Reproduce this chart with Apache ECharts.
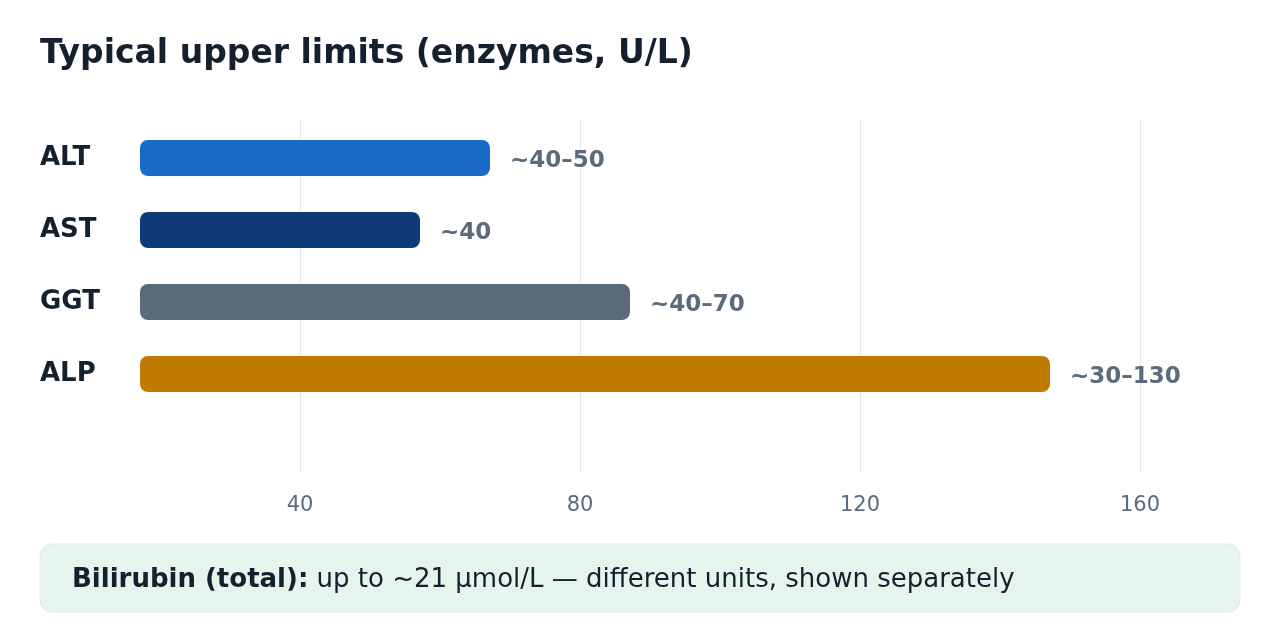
<!DOCTYPE html>
<html>
<head>
<meta charset="utf-8">
<title>Typical upper limits (enzymes, U/L)</title>
<script src="https://cdn.jsdelivr.net/npm/echarts@6.0.0/dist/echarts.min.js"></script>
<style>
  html, body { margin: 0; padding: 0; background: #fff; }
  #chart { width: 1280px; height: 640px; }
</style>
</head>
<body>
<div id="chart"></div>
<script>
// enzymes and their typical upper limits (U/L)
const enzymes = ['ALT', 'AST', 'GGT', 'ALP'];
const upperLimits = [50, 40, 70, 130];
const rangeLabels = ['~40–50', '~40', '~40–70', '~30–130'];
const barColors = ['#1a6bc9', '#0d3b78', '#5b6b7b', '#bf7b00'];
// tick labels on the lower axis
const tickValues = [40, 80, 120, 160];

const FONT = '"DejaVu Sans", sans-serif';
const DARK = '#15202e';
const MUTED = '#5b6b7b';

const chart = echarts.init(document.getElementById('chart'));

// bars: 7px per unit from x=140; tick scale is shifted so that 0 sits at x=20
const option = {
  animation: false,
  textStyle: { fontFamily: FONT },
  title: {
    text: 'Typical upper limits (enzymes, U/L)',
    left: 40,
    top: 38,
    padding: 0,
    textStyle: { fontFamily: FONT, fontSize: 33, fontWeight: 'bold', color: DARK }
  },
  grid: [
    { left: 140, width: 1100, top: 122, height: 288 },
    { left: 140, width: 1100, top: 120, height: 352 }
  ],
  xAxis: [
    { gridIndex: 0, type: 'value', min: 0, max: 1100 / 7, show: false },
    {
      gridIndex: 1,
      type: 'value',
      min: 120 / 7,
      max: 1220 / 7,
      axisLine: { show: false },
      axisTick: { show: false, customValues: tickValues },
      axisLabel: {
        customValues: tickValues,
        margin: 23,
        fontFamily: FONT,
        fontSize: 21,
        color: MUTED
      },
      splitLine: { show: true, lineStyle: { color: '#e3e8ee', width: 1 } }
    }
  ],
  yAxis: [
    {
      gridIndex: 0,
      type: 'category',
      data: enzymes,
      inverse: true,
      axisLine: { show: false },
      axisTick: { show: false },
      splitLine: { show: false },
      axisLabel: {
        align: 'left',
        margin: 100,
        padding: [0, 0, 8, 0],
        fontFamily: FONT,
        fontSize: 26,
        fontWeight: 'bold',
        color: DARK
      }
    },
    { gridIndex: 1, type: 'value', show: false }
  ],
  series: [{
    type: 'bar',
    xAxisIndex: 0,
    yAxisIndex: 0,
    barWidth: 36,
    data: upperLimits.map((v, i) => ({ value: v, itemStyle: { color: barColors[i] } })),
    itemStyle: { borderRadius: 8 },
    label: {
      show: true,
      position: 'right',
      distance: 20,
      offset: [0, 3],
      formatter: p => rangeLabels[p.dataIndex],
      fontFamily: FONT,
      fontSize: 23,
      fontWeight: 'bold',
      color: MUTED
    }
  }],
  graphic: [
    {
      type: 'rect',
      shape: { x: 40, y: 544, width: 1200, height: 68, r: 12 },
      style: { fill: '#e6f4ee', stroke: '#dcede6', lineWidth: 1 }
    },
    {
      type: 'text',
      style: {
        x: 72,
        y: 580,
        verticalAlign: 'middle',
        text: '{b|Bilirubin (total):} up to ~21 µmol/L — different units, shown separately',
        font: '26px "DejaVu Sans", sans-serif',
        fill: DARK,
        rich: {
          b: { fontFamily: FONT, fontSize: 26, fontWeight: 'bold', fill: DARK }
        }
      }
    }
  ]
};

chart.setOption(option);
window.addEventListener('resize', function () {
  chart.resize();
});
</script>
</body>
</html>
